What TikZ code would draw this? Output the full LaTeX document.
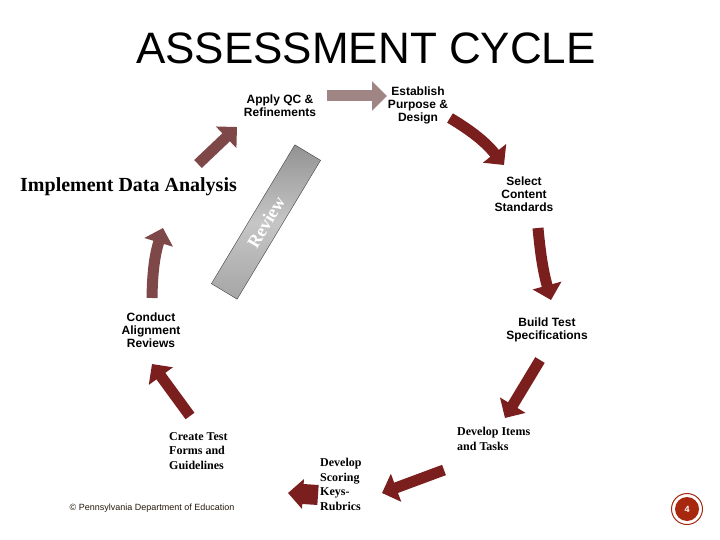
\documentclass[tikz,border=0pt]{standalone}
\usepackage{fontspec}
\setmainfont{Liberation Serif}
\setsansfont{Liberation Sans}
\usepackage{tikz}
\usetikzlibrary{calc}
\usetikzlibrary{arrows.meta,shapes}
\usetikzlibrary{positioning}
\definecolor{maroon}{HTML}{7A1E1E}
\definecolor{rosebrown}{HTML}{7E4848}
\definecolor{palerose}{HTML}{A08585}
\definecolor{badge}{HTML}{A8280F}
\tikzstyle{blk}=[line width=11pt,draw=maroon,-{Triangle[width=29pt,length=15pt]}]
\tikzstyle{lbl}=[font=\sffamily\bfseries\fontsize{12}{13}\selectfont,align=center,inner sep=0]
\tikzstyle{tlbl}=[font=\rmfamily\bfseries\fontsize{12}{14.5}\selectfont,align=left,inner sep=0]

\begin{document}
\begin{tikzpicture}[x=1pt,y=-1pt]
\useasboundingbox (0,0) rectangle (720,540);
\node (title) at (366,48) {\sffamily\fontsize{44}{44}\selectfont ASSESSMENT CYCLE};
\node[lbl] (qc) at (280,106) {Apply QC \&\\Refinements};
\node[lbl] (est) at (418,105) {Establish\\Purpose \&\\Design};
\node[lbl] (sel) at (524,194) {Select\\Content\\Standards};
\node[lbl] (build) at (547,330) {Build Test\\Specifications};
\node[lbl] (cond) at (151,330) {Conduct\\Alignment\\Reviews};
\node[anchor=west,inner sep=0,font=\rmfamily\bfseries\fontsize{20}{20}\selectfont] (impl) at (20,187) {Implement Data Analysis};
\node[tlbl,anchor=north west] (create) at (169,432) {Create Test\\Forms and\\Guidelines};
\node[tlbl,anchor=north west] (items) at (457,427) {Develop Items\\and Tasks};
\node[tlbl,anchor=north west] (score) at (320,458) {Develop\\Scoring\\Keys-\\Rubrics};
% review bar
\node[rotate=59,minimum width=162pt,minimum height=30pt,draw=gray!50!black,
      top color=gray!85,bottom color=gray!70,middle color=gray!45,
      text=white,font=\rmfamily\bfseries\fontsize{18}{18}\selectfont] (rev) at (266,222) {Review};
% arrows
\coordinate (A1t) at (327,96);  \coordinate (A1h) at (387,96);
\coordinate (A2t) at (450,118); \coordinate (A2h) at (504,165);
\coordinate (A3t) at (538,228); \coordinate (A3h) at (551,300);
\coordinate (A4t) at (540,360); \coordinate (A4h) at (505,418);
\coordinate (A5t) at (444,470); \coordinate (A5h) at (382,493);
\coordinate (A6t) at (318,495); \coordinate (A6h) at (288,493);
\coordinate (A7t) at (190,416); \coordinate (A7h) at (152,364);
\coordinate (A8t) at (152,298); \coordinate (A8h) at (163,228);
\coordinate (A9t) at (198,164); \coordinate (A9h) at (237,127);
\draw[blk,draw=palerose] (A1t) -- (A1h);
\draw[blk] (A2t) to[bend left=10] (A2h);
\draw[blk] (A3t) to[bend right=5] (A3h);
\draw[blk] (A4t) -- (A4h);
\draw[blk] (A5t) -- (A5h);
\draw[blk,line width=20pt] (A6t) -- (A6h);
\draw[blk] (A7t) -- (A7h);
\draw[blk,draw=rosebrown] (A8t) to[bend left=8] (A8h);
\draw[blk,draw=rosebrown] (A9t) -- (A9h);
% footer
\node[font=\sffamily\fontsize{9}{9}\selectfont,text=black!80!brown] (copy) at (152,508) {\textcopyright{} Pennsylvania Department of Education};
\node[circle,draw=badge,line width=1pt,minimum size=31pt,inner sep=0] (pgring) at (687,509) {};
\node[circle,fill=badge,minimum size=24pt,inner sep=0,text=white,font=\sffamily\bfseries\fontsize{9}{9}\selectfont] (pg) at (pgring) {4};
\end{tikzpicture}
\end{document}
